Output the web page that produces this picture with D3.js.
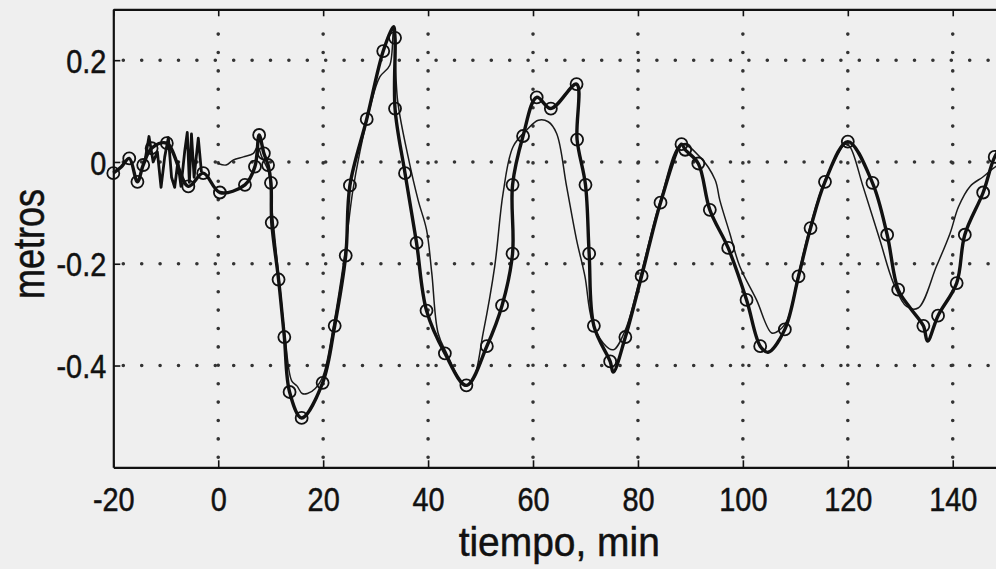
<!DOCTYPE html>
<html>
<head>
<meta charset="utf-8">
<script src="https://cdn.jsdelivr.net/npm/d3@7"></script>
<style>
  body { margin: 0; background: #efefef; }
  svg { display: block; }
  text { font-family: "Liberation Sans", Arial, sans-serif; fill: #111; }
  .grid { stroke: #333; stroke-width: 3.6; stroke-linecap: round; stroke-dasharray: 0, 18.4; }
  .lbl { stroke: #111; stroke-width: 0.5; }
</style>
</head>
<body>
<div id="chart"></div>
<script>
var w = 996;
var h = 569;

// tick values / labels
var xTicks = [-20, 0, 20, 40, 60, 80, 100, 120, 140];
var yTicks = [-0.4, -0.2, 0, 0.2];
var yLabels = ["-0.4", "-0.2", "0", "0.2"];

// thick line with circle markers (1 = marker drawn at the vertex)
var thickT = [-20, -18.5, -16.96, -15.4, -14.3, -12.7, -9.8, -5.7, -2.86, 0.32, 5.09, 7.0, 7.8, 8.7, 9.5, 10.05, 10.2,
  11.5, 12.6, 13.6, 15.9, 19.9, 22.2, 24.3, 25.1, 28.3, 31.45, 33.4, 33.7, 33.7, 35.6, 37.8, 39.7, 43.2, 47.3,
  51.2, 54.1, 56.1, 56.1, 58.1, 60.7, 63.4, 68.3, 68.4, 70.0, 70.7, 71.6, 74.7, 75.3, 77.6, 80.7, 84.3,
  88.3, 89.0, 91.5, 93.7, 97.2, 100.7, 103.3, 104.8, 108.0, 110.6, 112.9, 115.65, 120.0,
  124.7, 127.5, 129.6, 131.9, 134.4, 135.2, 137.2, 140.75, 142.3, 145.8, 148.0, 150];
var thickV = [-0.022, -0.01, 0.007, -0.039, -0.006, 0.027, 0.037, -0.048, -0.022, -0.060, -0.045, -0.009, 0.053, 0.017, -0.006, -0.041, -0.119,
  -0.231, -0.344, -0.452, -0.503, -0.434, -0.322, -0.184, -0.046, 0.084, 0.218, 0.266, 0.244, 0.105, -0.022, -0.159, -0.292, -0.376, -0.439,
  -0.362, -0.282, -0.180, -0.045, 0.051, 0.127, 0.105, 0.153, 0.044, -0.045, -0.180, -0.322, -0.392, -0.413, -0.344, -0.224, -0.080,
  0.035, 0.024, -0.003, -0.094, -0.169, -0.271, -0.362, -0.374, -0.329, -0.225, -0.130, -0.039, 0.040,
  -0.041, -0.143, -0.251, -0.287, -0.322, -0.352, -0.302, -0.238, -0.143, -0.060, 0.010, 0.04];
var thickMark = [1, 0, 1, 1, 1, 1, 1, 1, 1, 1, 1, 1, 1, 1, 1, 1, 1,
  1, 1, 1, 1, 1, 1, 1, 1, 1, 1, 0, 1, 1, 1, 1, 1, 1, 1,
  1, 1, 1, 1, 1, 1, 1, 1, 1, 1, 1, 1, 1, 0, 1, 1, 1,
  1, 1, 1, 1, 1, 1, 1, 0, 1, 1, 1, 1, 1,
  1, 1, 1, 0, 1, 0, 1, 1, 1, 1, 1, 0];

// thin line
var thinT = [0.0, 1.5, 2.9, 4.8, 6.7, 7.5, 8.3, 9.6, 10.3, 11.6, 12.8, 14.0, 15.0, 16.0, 17.0, 18.5, 20.0, 22.0, 24.0,
  25.6, 27.0, 29.0, 30.8, 32.7, 33.4, 34.2, 36.2, 38.1, 39.7, 40.7, 41.9, 43.5, 47.0, 48.5, 50.5, 52.7, 54.3,
  56.2, 58.8, 61.0, 62.9, 64.5, 66.4, 68.3, 69.9, 71.2, 73.4, 75.3, 77.6, 80.7, 84.3, 88.3, 91.8, 94.7, 95.6,
  97.5, 99.4, 102.6, 105.5, 107.0, 108.5, 110.6, 113.0, 115.7, 119.5, 120.4, 122.9, 126.1, 128.7, 131.2, 133.4,
  136.9, 139.5, 141.1, 143.3, 145.8, 148.2, 150];
var thinV = [-0.003, -0.006, 0.004, 0.010, 0.017, 0.030, 0.010, -0.020, -0.100, -0.230, -0.350, -0.430, -0.440, -0.455, -0.455, -0.445, -0.420, -0.320, -0.190,
  -0.060, 0.020, 0.110, 0.167, 0.190, 0.260, 0.120, 0.010, -0.075, -0.133, -0.218, -0.336, -0.375, -0.440, -0.430, -0.336, -0.205, -0.061,
  0.030, 0.063, 0.082, 0.079, 0.056, -0.048, -0.153, -0.225, -0.310, -0.356, -0.369, -0.330, -0.215, -0.075, 0.035, 0.010, -0.035, -0.075,
  -0.140, -0.205, -0.271, -0.336, -0.330, -0.310, -0.220, -0.120, -0.035, 0.035, 0.030, -0.048, -0.153, -0.238, -0.284, -0.287,
  -0.205, -0.140, -0.088, -0.048, -0.029, -0.009, 0.0];

// noisy record before t = 0
var noiseT = [-14.0, -13.2, -12.4, -11.6, -10.9, -10.2, -9.5, -8.9, -8.3, -7.7, -7.1, -6.4, -5.9, -5.5, -5.1, -4.6, -3.8, -3.2];
var noiseV = [0.0, 0.05, 0.0, 0.02, -0.05, 0.01, 0.048, -0.03, -0.05, 0.0, -0.048, 0.02, 0.058, -0.04, 0.055, -0.03, 0.047, -0.02];

// plot box (px)
var padL = 113.3, padR = 1005.2, padT = 9.3, padB = 467.3;

function init(){

	var xScale = d3.scaleLinear().domain([-20, 150]).range([padL, padR]);
	var yScale = d3.scaleLinear().domain([-0.6, 0.3]).range([padB, padT]);

	var svg = d3.select("#chart").append("svg")
				.attr("width", w)
				.attr("height", h);

	svg.append("rect").attr("width", w).attr("height", h).attr("fill", "#efefef");

	// dotted grid
	svg.selectAll(".vgrid").data(xTicks.slice(1)).enter()
		.append("line").attr("class", "grid")
		.attr("x1", function(d){ return xScale(d); })
		.attr("x2", function(d){ return xScale(d); })
		.attr("y1", padB - 10).attr("y2", padT + 8);

	svg.selectAll(".hgrid").data(yTicks).enter()
		.append("line").attr("class", "grid")
		.attr("y1", function(d){ return yScale(d); })
		.attr("y2", function(d){ return yScale(d); })
		.attr("x1", padL + 10).attr("x2", padR);

	// axes: MATLAB style, ticks inside
	var xAxisB = d3.axisBottom(xScale).tickValues(xTicks).tickSizeInner(-7).tickSizeOuter(0).tickPadding(20)
					.tickFormat(String);
	var gx = svg.append("g")
		.attr("transform", "translate(0," + padB + ")")
		.call(xAxisB);

	var xAxisT = d3.axisTop(xScale).tickValues(xTicks).tickSizeInner(-7).tickSizeOuter(0).tickFormat("");
	var gt = svg.append("g")
		.attr("transform", "translate(0," + padT + ")")
		.call(xAxisT);

	var yAxis = d3.axisLeft(yScale).tickValues(yTicks).tickSizeInner(-7).tickSizeOuter(0).tickPadding(0)
					.tickFormat(function(d, i){ return yLabels[i]; });
	var gy = svg.append("g")
		.attr("transform", "translate(" + padL + ",0)")
		.call(yAxis);

	[gx, gt, gy].forEach(function(g){
		g.select(".domain").attr("stroke", "#111").attr("stroke-width", 2.2);
		g.selectAll(".tick line").attr("stroke", "#111").attr("stroke-width", 1.6);
		g.selectAll(".tick text").attr("font-size", 34).attr("fill", "#111").attr("class", "lbl")
			.style("font-family", "'Liberation Sans', Arial, sans-serif");
	});
	// narrow the digits a bit (reference font is condensed)
	gx.selectAll(".tick text").attr("transform", "scale(0.85,1)");
	gy.selectAll(".tick text").attr("x", 0).attr("dy", "0.36em")
		.attr("transform", "translate(-7,0) scale(0.85,1)");

	// data lines
	var thin = thinT.map(function(t, i){ return [t, thinV[i]]; });
	var thick = thickT.map(function(t, i){ return [t, thickV[i], thickMark[i]]; });
	var noise = noiseT.map(function(t, i){ return [t, noiseV[i]]; });

	var line = d3.line()
				.x(function(d){ return xScale(d[0]); })
				.y(function(d){ return yScale(d[1]); });
	var smooth = d3.line()
				.curve(d3.curveCatmullRom.alpha(0.5))
				.x(function(d){ return xScale(d[0]); })
				.y(function(d){ return yScale(d[1]); });

	svg.append("path").datum(thin)
		.attr("fill", "none").attr("stroke", "#1a1a1a").attr("stroke-width", 1.5)
		.attr("stroke-linejoin", "round").attr("d", smooth);

	svg.append("path").datum(noise)
		.attr("fill", "none").attr("stroke", "#111").attr("stroke-width", 2.8)
		.attr("stroke-linejoin", "round").attr("d", line);

	svg.append("path").datum(thick)
		.attr("fill", "none").attr("stroke", "#111").attr("stroke-width", 3.4)
		.attr("stroke-linejoin", "round").attr("d", smooth);

	svg.selectAll(".mark").data(thick.filter(function(d){ return d[2] === 1; })).enter()
		.append("circle")
		.attr("cx", function(d){ return xScale(d[0]); })
		.attr("cy", function(d){ return yScale(d[1]); })
		.attr("r", 6)
		.attr("fill", "none").attr("stroke", "#111").attr("stroke-width", 1.8);

	// axis titles
	svg.append("text")
		.attr("class", "lbl")
		.attr("x", (padL + padR) / 2)
		.attr("y", 556)
		.attr("text-anchor", "middle")
		.attr("font-size", 41)
		.attr("transform", "translate(" + ((padL + padR) / 2) * 0.05 + ",0) scale(0.95,1)")
		.text("tiempo, min");

	svg.append("text")
		.attr("class", "lbl")
		.attr("transform", "translate(44," + 244 + ") rotate(-90) scale(0.82,1)")
		.attr("text-anchor", "middle")
		.attr("font-size", 44)
		.text("metros");
}

window.onload = init;
</script>
</body>
</html>
